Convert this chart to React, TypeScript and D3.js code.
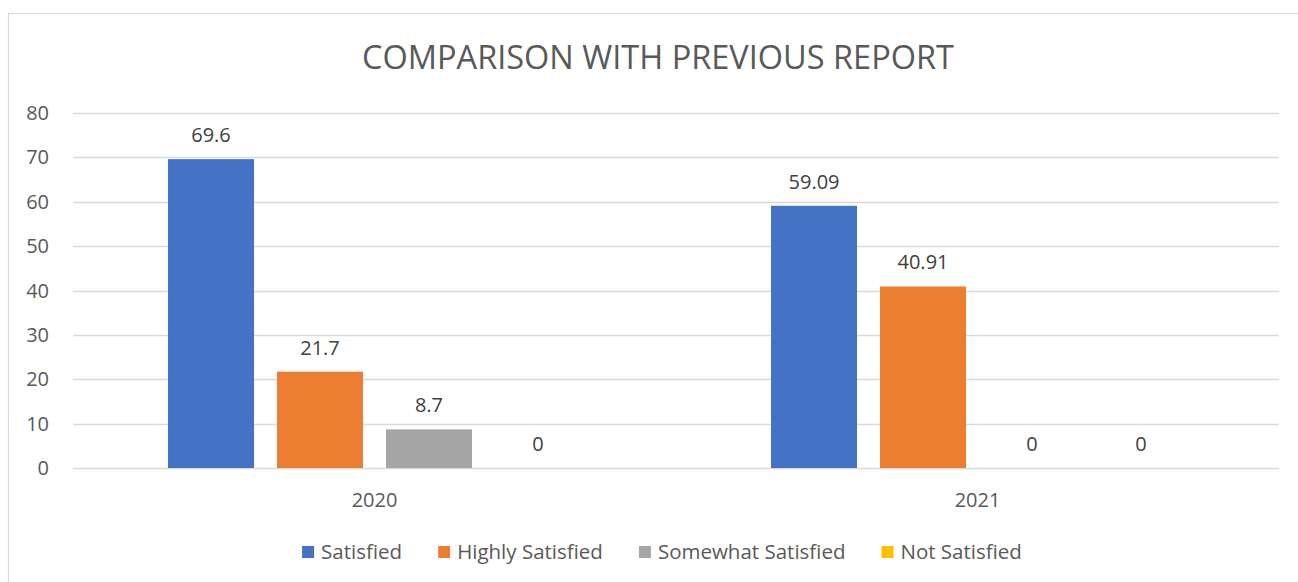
import { useEffect, useRef } from "react"
import * as d3 from "d3"

const years = ["2020", "2021"]
const seriesNames = ["Satisfied", "Highly Satisfied", "Somewhat Satisfied", "Not Satisfied"]
const seriesColors = ["#4472C4", "#ED7D31", "#A5A5A5", "#FFC000"]
// values per year, same order as seriesNames
const values2020 = [69.6, 21.7, 8.7, 0]
const values2021 = [59.09, 40.91, 0, 0]
const yTicks = [0, 10, 20, 30, 40, 50, 60, 70, 80]

export default function App() {
  const svgRef = useRef<SVGSVGElement>(null)

  useEffect(() => {
    if (!svgRef.current) return
    const W = 1298
    const H = 582
    const font = "'Open Sans', sans-serif"
    const textColor = "#595959"

    const svg = d3.select(svgRef.current)
    svg.selectAll("*").remove()
    svg.attr("width", W).attr("height", H).style("font-family", font)

    // chart frame (runs off the right and bottom edges)
    svg.append("rect")
      .attr("x", 8.5).attr("y", 13.5)
      .attr("width", W + 10).attr("height", H + 10)
      .attr("fill", "#fff").attr("stroke", "#D9D9D9").attr("stroke-width", 1.2)

    svg.append("text")
      .attr("x", 658).attr("y", 69)
      .attr("text-anchor", "middle")
      .attr("font-size", 32.5)
      .attr("fill", textColor)
      .text("COMPARISON WITH PREVIOUS REPORT")

    const plot = { left: 73, right: 1279, top: 113, bottom: 468 }

    const y = d3.scaleLinear().domain([0, 80]).range([plot.bottom, plot.top])
    const x0 = d3.scaleBand<string>().domain(years).range([plot.left, plot.right])
    const x1 = d3.scaleBand<string>().domain(seriesNames)
      .range([0, x0.bandwidth()])
      .paddingInner(0.211).paddingOuter(0.872)

    // gridlines
    svg.append("g").selectAll("line")
      .data(yTicks)
      .join("line")
      .attr("x1", plot.left).attr("x2", plot.right)
      .attr("y1", d => Math.round(y(d)) + 0.5).attr("y2", d => Math.round(y(d)) + 0.5)
      .attr("stroke", "#D9D9D9").attr("stroke-width", 1.3)

    // y tick labels
    svg.append("g").selectAll("text")
      .data(yTicks)
      .join("text")
      .attr("x", 49).attr("y", d => y(d) + 7)
      .attr("text-anchor", "end")
      .attr("font-size", 20)
      .attr("fill", textColor)
      .text(d => d)

    const data = years.map((yr, i) => ({ year: yr, values: i === 0 ? values2020 : values2021 }))

    const groups = svg.append("g").selectAll("g")
      .data(data)
      .join("g")
      .attr("transform", d => `translate(${x0(d.year)},0)`)

    groups.selectAll("rect")
      .data(d => d.values.map((v, i) => ({ name: seriesNames[i], value: v, color: seriesColors[i] })))
      .join("rect")
      .attr("x", d => x1(d.name) || 0)
      .attr("width", x1.bandwidth())
      .attr("y", d => y(d.value))
      .attr("height", d => y(0) - y(d.value))
      .attr("fill", d => d.color)

    groups.selectAll("text.val")
      .data(d => d.values.map((v, i) => ({ name: seriesNames[i], value: v })))
      .join("text")
      .attr("class", "val")
      .attr("x", d => (x1(d.name) || 0) + x1.bandwidth() / 2)
      .attr("y", d => y(d.value) - 17)
      .attr("text-anchor", "middle")
      .attr("font-size", 20)
      .attr("fill", "#404040")
      .text(d => String(d.value))

    // x labels
    svg.append("g").selectAll("text")
      .data(years)
      .join("text")
      .attr("x", d => (x0(d) || 0) + x0.bandwidth() / 2)
      .attr("y", 507)
      .attr("text-anchor", "middle")
      .attr("font-size", 20)
      .attr("fill", textColor)
      .text(d => d)

    // legend, centred, measured
    const legend = svg.append("g")
    const items = legend.selectAll("g")
      .data(seriesNames)
      .join("g")
    items.append("rect")
      .attr("width", 12).attr("height", 12)
      .attr("y", 546)
      .attr("fill", (_, i) => seriesColors[i])
    items.append("text")
      .attr("x", 19).attr("y", 559)
      .attr("font-size", 20.5)
      .attr("fill", textColor)
      .text(d => d)

    const widths: number[] = []
    items.each(function () {
      const t = d3.select(this).select("text").node() as SVGTextElement
      widths.push(19 + t.getComputedTextLength())
    })
    const gap = 36
    const total = d3.sum(widths) + gap * (widths.length - 1)
    let cx = 662 - total / 2
    items.attr("transform", (_, i) => {
      const tx = cx
      cx += widths[i] + gap
      return `translate(${tx},0)`
    })
  }, [])

  return (
    <svg ref={svgRef} style={{ position: "absolute", left: 0, top: 0, display: "block" }} />
  )
}
